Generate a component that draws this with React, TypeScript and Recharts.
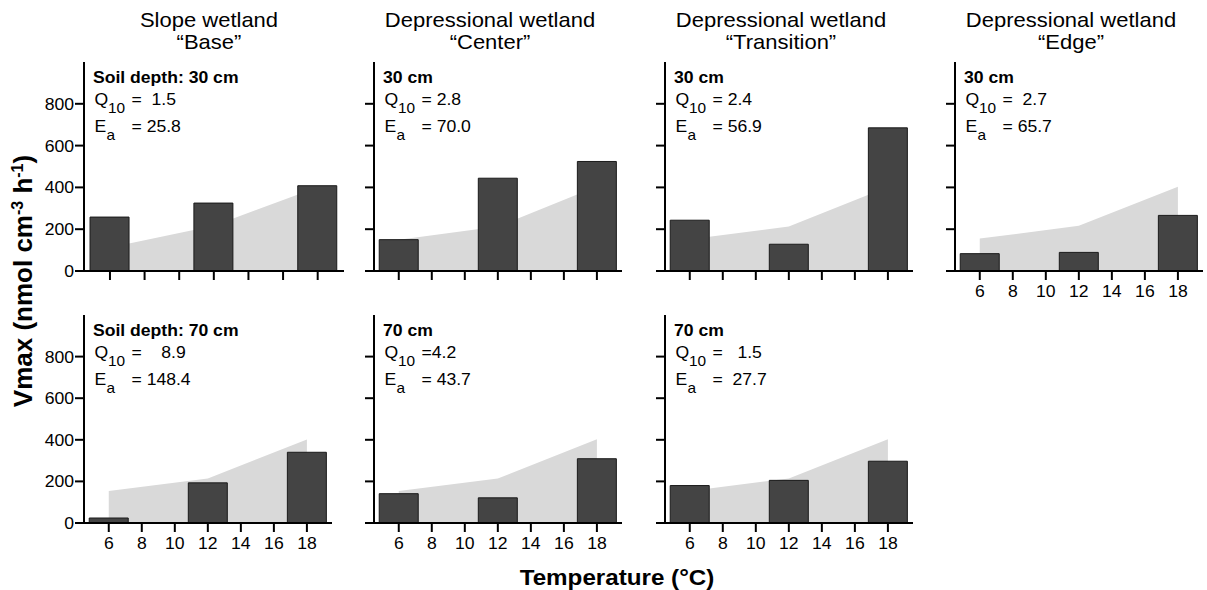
import React from 'react';
import { ComposedChart, Bar, Area, XAxis, YAxis } from 'recharts';

// ---------- data ----------
const temperatures = [6, 12, 18];
const xTicks = [6, 8, 10, 12, 14, 16, 18];
const yTicks = [0, 200, 400, 600, 800];

const siteTitles = ['Slope wetland', 'Depressional wetland', 'Depressional wetland', 'Depressional wetland'];
const siteNames = ['“Base”', '“Center”', '“Transition”', '“Edge”'];

// measured Vmax (bars)
const vmax30Base = [258, 325, 408];
const vmax30Center = [150, 444, 524];
const vmax30Transition = [243, 128, 685];
const vmax30Edge = [83, 89, 266];
const vmax70Base = [24, 193, 340];
const vmax70Center = [141, 121, 309];
const vmax70Transition = [180, 205, 297];

// modelled Vmax (grey area)
const model30Base = [112, 217, 401];
const model30Center = [150, 213, 404];
const model30Transition = [152, 213, 402];
const model30Edge = [155, 216, 403];
const model70Base = [154, 214, 402];
const model70Center = [154, 214, 403];
const model70Transition = [154, 214, 403];

const depthLabels = ['Soil depth: 30 cm', '30 cm', '30 cm', '30 cm', 'Soil depth: 70 cm', '70 cm', '70 cm'];
const q10Labels = ['=  1.5', '= 2.8', '= 2.4', '=  2.7', '=    8.9', '=4.2', '=   1.5'];
const eaLabels = ['= 25.8', '= 70.0', '= 56.9', '= 65.7', '= 148.4', '= 43.7', '=  27.7'];

const xAxisTitle = 'Temperature (°C)';

// ---------- layout ----------
const FONT = '"Liberation Sans", Arial, Helvetica, sans-serif';
const SX = 1.1;

type PanelCfg = {
  x: number; top: number; w: number; h: number;
  vmax: number[]; model: number[]; idx: number;
  showY: boolean; showX: boolean;
};

const panels: PanelCfg[] = [
  { x: 84, top: 62, w: 260, h: 209, vmax: vmax30Base, model: model30Base, idx: 0, showY: true, showX: false },
  { x: 374, top: 62, w: 248, h: 209, vmax: vmax30Center, model: model30Center, idx: 1, showY: false, showX: false },
  { x: 665, top: 62, w: 248, h: 209, vmax: vmax30Transition, model: model30Transition, idx: 2, showY: false, showX: false },
  { x: 955, top: 62, w: 248, h: 209, vmax: vmax30Edge, model: model30Edge, idx: 3, showY: false, showX: true },
  { x: 84, top: 315, w: 248, h: 208, vmax: vmax70Base, model: model70Base, idx: 4, showY: true, showX: true },
  { x: 374, top: 315, w: 248, h: 208, vmax: vmax70Center, model: model70Center, idx: 5, showY: false, showX: true },
  { x: 665, top: 315, w: 248, h: 208, vmax: vmax70Transition, model: model70Transition, idx: 6, showY: false, showX: true },
];

const titleX = [209, 490, 781, 1071];

const XTick = (props: any) => {
  const { x, y, payload } = props;
  return (
    <text transform={`translate(${x},${y}) scale(${SX},1)`} textAnchor="middle" dy={15.5}
      fontSize={16} fontFamily={FONT} fill="#000">{payload.value}</text>
  );
};
const YTick = (props: any) => {
  const { x, y, payload } = props;
  return (
    <text transform={`translate(${x + 1},${y}) scale(${SX},1)`} textAnchor="end" dy={6}
      fontSize={16} fontFamily={FONT} fill="#000">{payload.value}</text>
  );
};
const NoTick = () => <g />;

const L = 70, R = 4, T = 4, B = 40;

function Panel({ p }: { p: PanelCfg }) {
  const data = temperatures.map((t, i) => ({ t, v: p.vmax[i], m: p.model[i] }));
  return (
    <div style={{ position: 'absolute', left: p.x - L, top: p.top - T }}>
      <ComposedChart width={L + p.w + R} height={T + p.h + B} data={data}
        margin={{ top: T, right: R, bottom: 0, left: 0 }}>
        <XAxis dataKey="t" type="number" domain={[4.5, 19.52]} ticks={xTicks} allowDataOverflow
          height={B} tickSize={9} interval={0} stroke="#000"
          axisLine={{ stroke: '#000', strokeWidth: 2 }} tickLine={{ stroke: '#000', strokeWidth: 2 }}
          tick={p.showX ? <XTick /> : <NoTick />} />
        <YAxis type="number" domain={[0, 1000]} ticks={yTicks} allowDataOverflow width={L}
          tickSize={9} interval={0} stroke="#000"
          axisLine={{ stroke: '#000', strokeWidth: 2 }} tickLine={{ stroke: '#000', strokeWidth: 2 }}
          tick={p.showY ? <YTick /> : <NoTick />} />
        <Area dataKey="m" type="linear" fill="#d9d9d9" fillOpacity={1} stroke="none" isAnimationActive={false} />
        <Bar dataKey="v" barSize={39} fill="#444444" stroke="#1a1a1a" strokeWidth={1} isAnimationActive={false} />
      </ComposedChart>
    </div>
  );
}

function Annot({ p }: { p: PanelCfg }) {
  const x = p.x, t = p.top;
  const txt = (tx: number, ty: number, s: string, size = 16, weight = 'normal') => (
    <text transform={`translate(${tx},${ty}) scale(${SX},1)`} fontSize={size} fontWeight={weight}
      fontFamily={FONT} fill="#000" style={{ whiteSpace: 'pre' }}>{s}</text>
  );
  return (
    <g>
      {txt(x + 9, t + 21, depthLabels[p.idx], 16, 'bold')}
      {txt(x + 10.5, t + 42.5, 'Q')}
      {txt(x + 24, t + 50.5, '10', 14)}
      {txt(x + 47.5, t + 42.5, q10Labels[p.idx])}
      {txt(x + 10.5, t + 69.5, 'E')}
      {txt(x + 22.5, t + 77.5, 'a', 14)}
      {txt(x + 47.5, t + 69.5, eaLabels[p.idx])}
    </g>
  );
}

export default function App() {
  return (
    <div style={{ position: 'absolute', left: 0, top: 0, width: 1207, height: 590, background: '#fff', overflow: 'hidden' }}>
      {panels.map((p) => <Panel key={p.idx} p={p} />)}
      <svg width={1207} height={590} style={{ position: 'absolute', left: 0, top: 0, pointerEvents: 'none' }}>
        {siteTitles.map((s, i) => (
          <g key={i}>
            <text transform={`translate(${titleX[i]},27) scale(${SX},1)`} textAnchor="middle" fontSize={20}
              fontFamily={FONT} fill="#000">{s}</text>
            <text transform={`translate(${titleX[i]},48.5) scale(${SX},1)`} textAnchor="middle" fontSize={20}
              fontFamily={FONT} fill="#000">{siteNames[i]}</text>
          </g>
        ))}
        {panels.map((p) => <Annot key={p.idx} p={p} />)}
        <text transform={`translate(617,585) scale(${SX},1)`} textAnchor="middle" fontSize={22} fontWeight="bold"
          fontFamily={FONT} fill="#000">{xAxisTitle}</text>
        <text transform="translate(32,281) rotate(-90)" textAnchor="middle" fontSize={26}
          fontWeight="bold" fontFamily={FONT} fill="#000">
          <tspan>Vmax (nmol cm</tspan>
          <tspan dy={-9} fontSize={16}>-3</tspan>
          <tspan dy={9}> h</tspan>
          <tspan dy={-9} fontSize={16}>-1</tspan>
          <tspan dy={9}>)</tspan>
        </text>
      </svg>
    </div>
  );
}
